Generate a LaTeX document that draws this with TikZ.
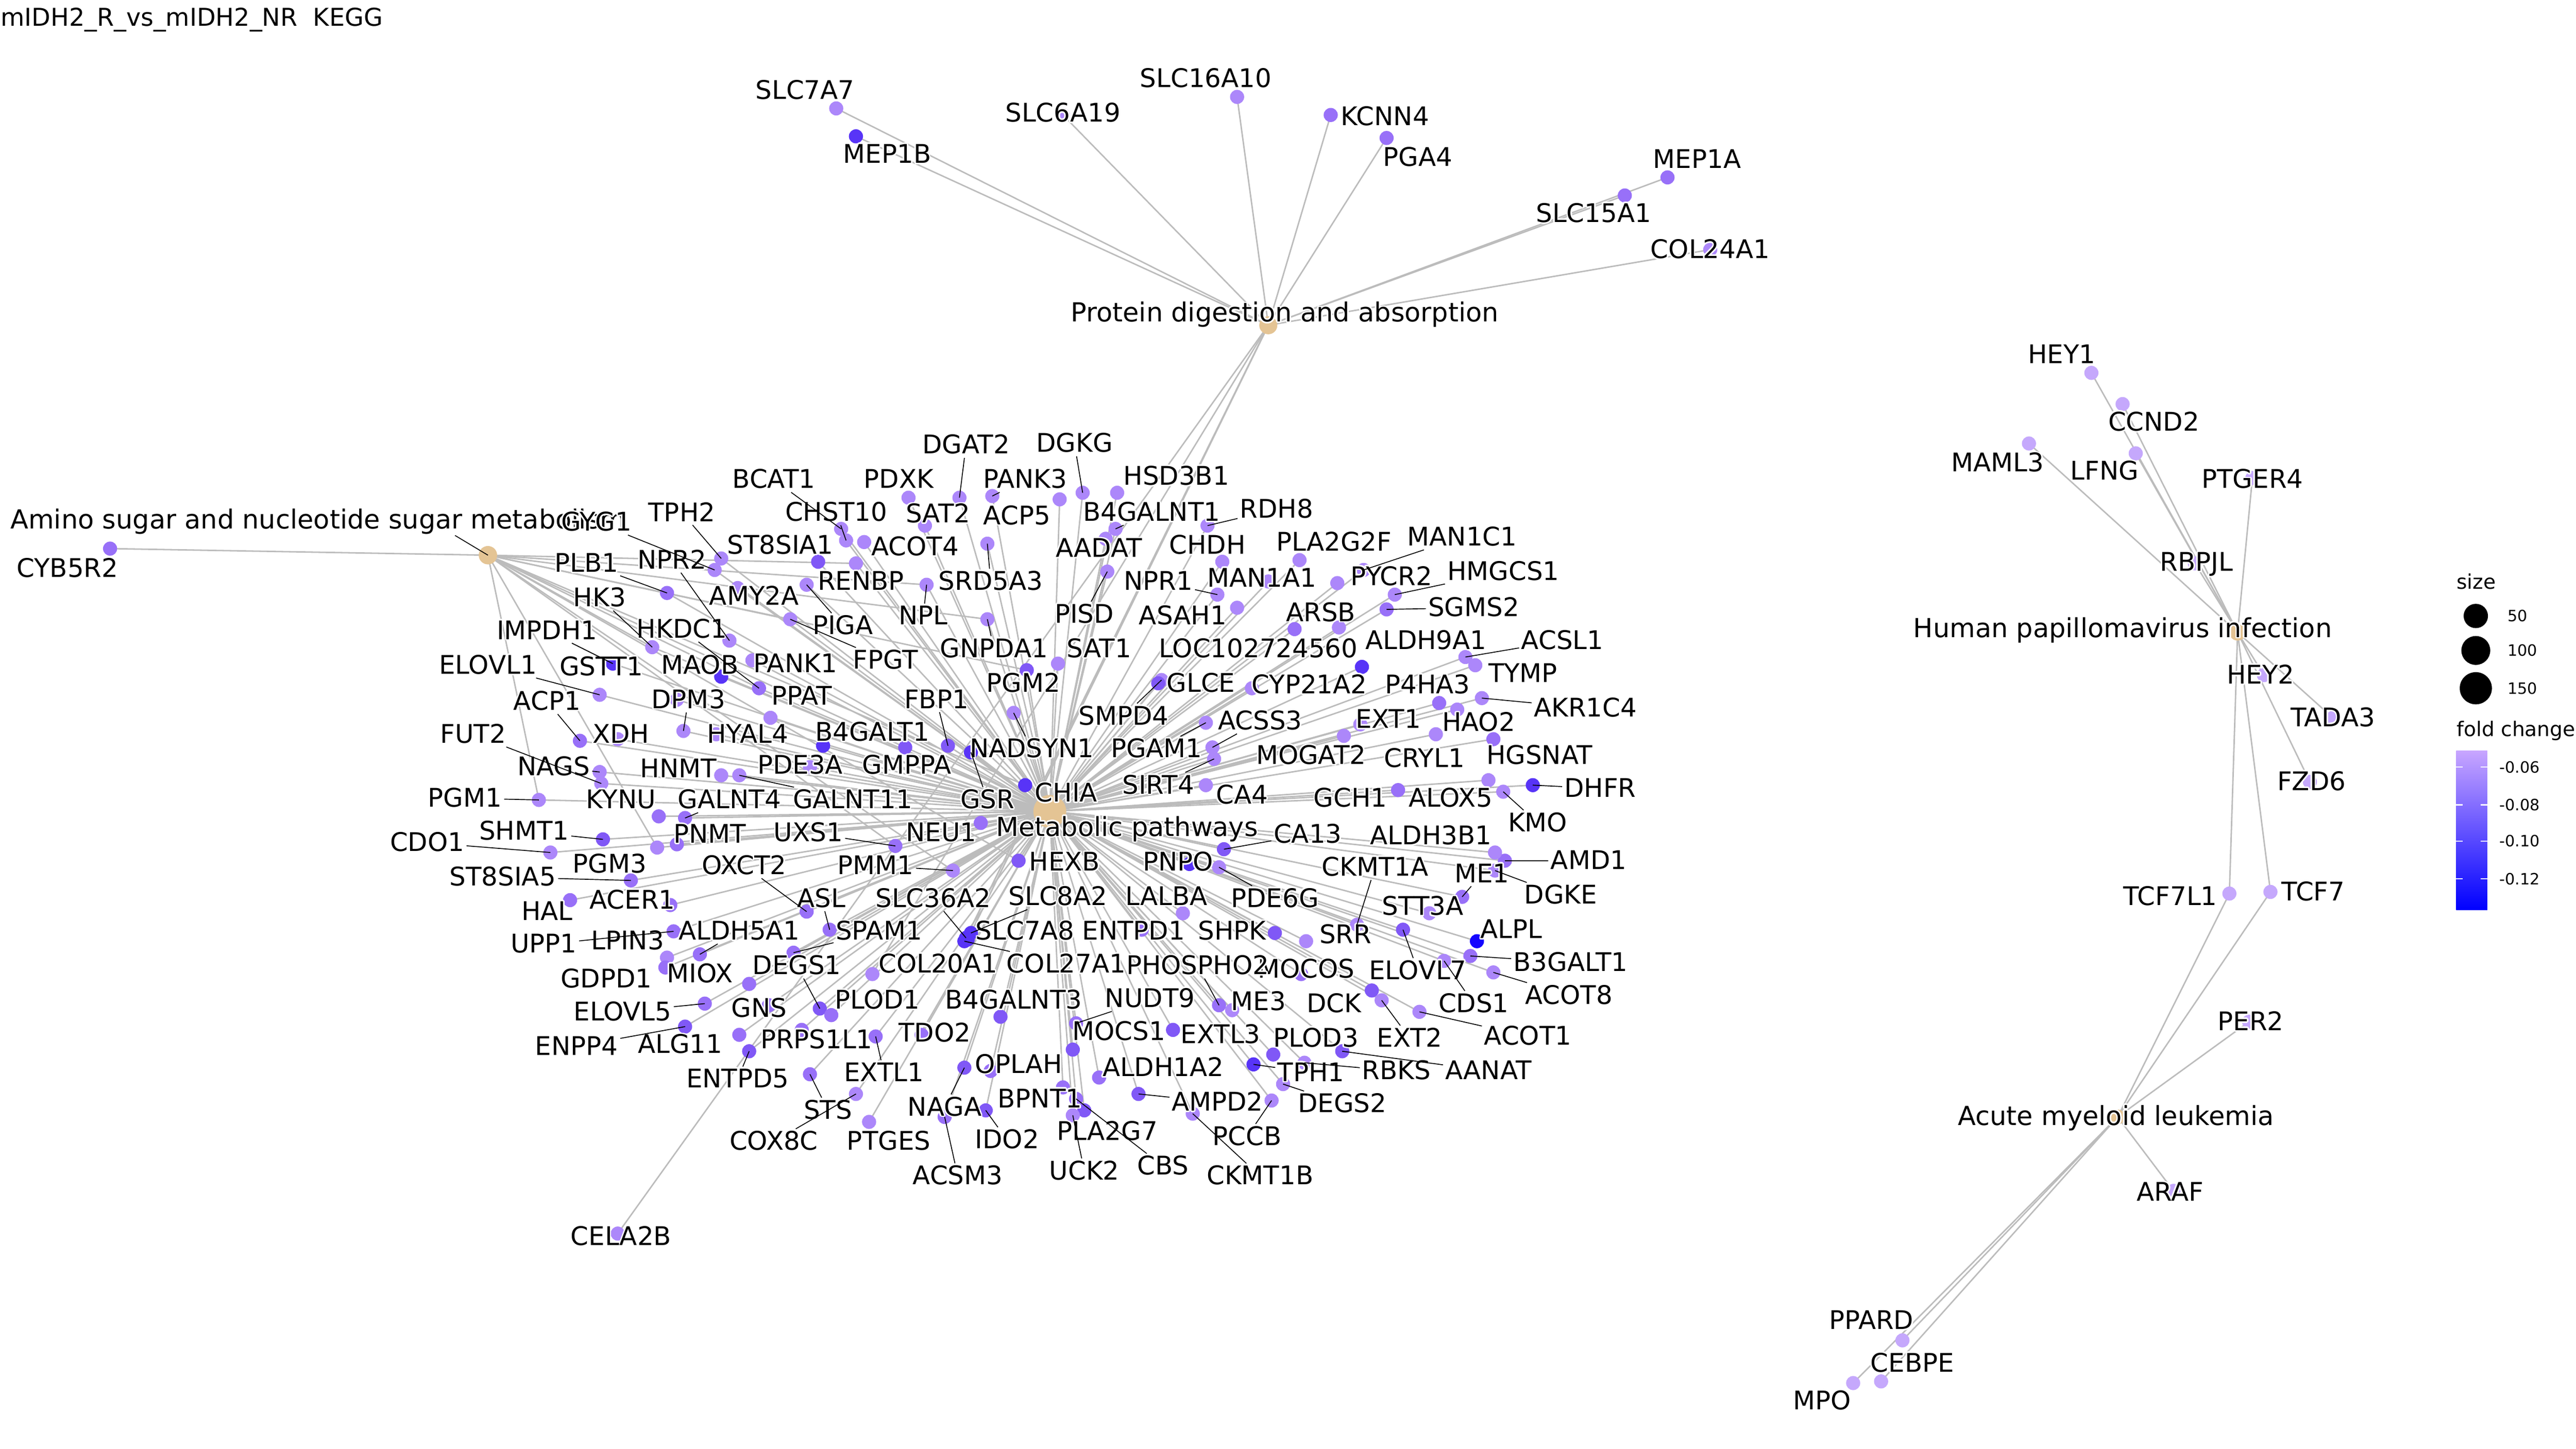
\documentclass[tikz,border=0pt]{standalone}
\usepackage{fontspec}
\setmainfont{DejaVu Sans}
\usepackage[copies]{contour}
\contourlength{0.5pt}

\definecolor{fcP}{RGB}{197,168,252}
\definecolor{fcL}{RGB}{172,135,250}
\definecolor{fcM}{RGB}{152,112,248}
\definecolor{fcD}{RGB}{128,88,246}
\definecolor{fcB}{RGB}{88,52,247}
\definecolor{fcX}{RGB}{20,5,255}
\definecolor{catcol}{RGB}{228,196,148}
\definecolor{edgegray}{RGB}{188,188,188}
\definecolor{barTop}{RGB}{200,166,255}
\definecolor{barMid}{RGB}{150,112,252}

\tikzset{
  edge/.style={edgegray, line width=0.5pt},
  leader/.style={black, line width=0.3pt},
  glab/.style={font=\fontsize{8.9}{10}\selectfont, inner sep=0.6pt},
  clab/.style={font=\fontsize{9.1}{10}\selectfont, inner sep=0.6pt},
  leg/.style={font=\fontsize{5.4}{6}\selectfont, inner sep=0pt, anchor=west},
  legtitle/.style={font=\fontsize{7}{8}\selectfont, inner sep=0pt, anchor=west}
}

% name / label x / label y / dot x / dot y / colour / leader / category
\def\genes{%
SLC7A7/490/55/509/66/L/0/pro,
MEP1B/540/94/521/83/B/0/pro,
SLC6A19/647/69/647/70/L/0/pro,
SLC16A10/734/48/753/59/L/0/pro,
KCNN4/843/71/810/70/M/0/pro,
PGA4/863/96/844/84/M/0/pro,
MEP1A/1033/97/1015/108/M/0/pro,
SLC15A1/970/130/989/119/M/0/pro,
COL24A1/1041/152/1041/152/L/0/pro,
CELA2B/378/753/376/751/L/0/pro,
SLC36A2/568/547/588/571/B/1/pro,
SLC8A2/644/546/591/568/B/1/pro,
SLC7A8/624/567/589/572/B/0/pro,
COL20A1/571/587/531/593/L/0/pro,
CYB5R2/41/346/67/334/M/0/ami,
BCAT1/471/292/512/322/L/1/met,
CHST10/509/312/515/329/L/1/met,
TPH2/415/312/439/340/L/1/met,
ST8SIA1/475/332/498/342/D/0/met,
PLB1/357/343/406/361/M/1/met,
NPR2/409/341/444/390/L/1/met,
AMY2A/459/363/449/358/L/0/met,
RENBP/524/354/521/343/L/0/met,
PIGA/513/381/491/356/L/1/met,
HK3/365/364/397/394/L/1/met,
IMPDH1/333/384/373/404/B/1/met,
HKDC1/415/383/462/419/M/1/met,
FPGT/539/402/481/377/L/1/met,
PANK1/484/404/458/402/L/0/met,
ELOVL1/297/405/365/423/L/1/met,
GSTT1/366/406/412/426/L/0/met,
MAOB/426/405/439/412/B/0/met,
PPAT/488/424/469/437/L/0/met,
ACP1/333/427/353/451/M/1/met,
DPM3/419/426/416/445/L/1/met,
XDH/378/447/376/450/L/0/met,
HYAL4/455/447/436/447/L/0/met,
B4GALT1/531/446/501/454/B/0/met,
FUT2/288/447/366/477/L/1/met,
NAGS/337/467/365/470/L/1/met,
HNMT/413/468/439/472/L/0/met,
PDE3A/487/466/493/467/L/0/met,
GALNT11/519/487/450/472/L/1/met,
GALNT4/444/487/417/498/M/1/met,
PGM1/283/486/328/487/L/1/met,
KYNU/378/487/401/497/M/0/met,
SHMT1/319/506/367/511/D/1/met,
CDO1/260/513/335/519/L/1/met,
PNMT/432/508/412/514/M/0/met,
PGM3/371/526/400/516/L/0/met,
UXS1/492/507/545/515/M/1/met,
ST8SIA5/306/534/384/536/M/1/met,
OXCT2/453/527/491/555/M/1/met,
HAL/333/555/347/548/M/0/met,
ACER1/385/548/408/551/M/0/met,
ASL/500/547/505/566/M/1/met,
UPP1/331/575/410/567/M/1/met,
LPIN3/382/573/406/583/L/0/met,
ALDH5A1/450/567/426/581/M/1/met,
SPAM1/535/567/483/580/M/1/met,
GDPD1/369/596/405/589/M/0/met,
MIOX/426/593/456/599/M/0/met,
DEGS1/485/588/499/614/D/1/met,
ELOVL5/379/616/429/611/M/1/met,
GNS/462/614/468/612/M/0/met,
ENPP4/351/637/417/625/D/1/met,
ALG11/414/636/450/630/M/0/met,
PRPS1L1/497/633/488/627/M/0/met,
PLOD1/534/609/506/618/M/0/met,
ENTPD5/449/657/456/640/D/1/met,
EXTL1/538/653/533/631/M/1/met,
STS/504/676/493/654/M/1/met,
COX8C/471/695/521/666/L/1/met,
PTGES/541/695/529/683/L/0/met,
TDO2/569/629/561/630/M/0/met,
NEU1/573/507/597/501/M/0/met,
PMM1/533/527/580/530/L/1/met,
GSR/601/487/591/458/B/1/met,
CHIA/649/483/624/478/B/0/met,
HEXB/648/525/620/524/D/0/met,
B4GALNT3/617/609/609/619/D/0/met,
NAGA/575/674/587/650/D/1/met,
OPLAH/620/648/603/652/M/0/met,
ACSM3/583/716/575/680/M/1/met,
IDO2/613/694/600/676/D/1/met,
BPNT1/633/669/647/662/M/0/met,
PLA2G7/674/689/660/676/D/0/met,
UCK2/660/713/653/679/L/1/met,
CBS/708/710/655/669/M/1/met,
MOCS1/681/628/653/639/D/0/met,
NUDT9/700/608/655/623/M/1/met,
ALDH1A2/708/650/669/656/M/0/met,
AMPD2/741/671/693/666/D/1/met,
CKMT1B/767/716/726/678/L/1/met,
PCCB/759/692/774/670/L/1/met,
EXTL3/743/630/714/627/D/0/met,
ENTPD1/690/567/695/566/M/0/met,
LALBA/710/546/720/556/L/0/met,
PNPO/717/525/724/526/B/0/met,
PDE6G/776/547/742/528/L/1/met,
CA13/796/508/745/517/D/1/met,
SHPK/750/567/776/568/D/0/met,
MOCOS/795/590/792/593/M/0/met,
PHOSPHO2/729/588/742/612/M/1/met,
COL27A1/649/587/587/573/B/1/pro,
ME3/766/610/750/615/L/0/met,
SRR/819/569/795/573/L/0/met,
CKMT1A/837/528/826/563/L/1/met,
PLOD3/801/632/775/642/D/0/met,
TPH1/798/653/763/648/B/1/met,
RBKS/850/652/794/647/L/1/met,
AANAT/906/652/817/640/D/1/met,
DEGS2/817/672/781/660/L/1/met,
DCK/812/611/835/603/D/0/met,
EXT2/858/632/841/609/L/1/met,
ELOVL7/863/591/854/566/D/1/met,
CDS1/897/611/879/585/L/1/met,
ACOT1/930/631/864/616/L/1/met,
STT3A/866/552/870/556/L/0/met,
ALPL/920/566/899/573/X/0/met,
B3GALT1/956/586/895/582/M/1/met,
ACOT8/955/606/909/592/L/1/met,
ME1/902/532/890/546/M/1/met,
DGKE/950/545/910/530/L/1/met,
AMD1/967/524/916/524/M/1/met,
ALDH3B1/871/509/910/519/L/0/met,
KMO/936/501/915/482/L/1/met,
DHFR/974/480/933/478/B/1/met,
ALOX5/883/486/906/475/L/0/met,
GCH1/822/486/851/481/M/0/met,
CA4/756/484/734/478/L/0/met,
SIRT4/705/478/739/462/L/1/met,
PGAM1/704/456/734/440/L/1/met,
ACSS3/767/439/738/455/L/1/met,
MOGAT2/798/460/818/448/L/0/met,
HGSNAT/937/460/909/450/M/0/met,
CRYL1/867/462/874/447/L/0/met,
EXT1/845/438/828/441/L/0/met,
HAO2/900/440/887/432/L/0/met,
AKR1C4/965/431/902/425/L/1/met,
P4HA3/869/417/876/428/M/0/met,
TYMP/927/410/898/405/L/0/met,
ACSL1/951/390/892/400/L/1/met,
ALDH9A1/868/390/829/406/B/0/met,
CYP21A2/797/417/762/419/L/0/met,
LOC102724560/766/395/815/382/L/0/met,
SMPD4/684/436/707/414/L/1/met,
GLCE/731/416/705/416/D/0/met,
SGMS2/897/370/844/371/M/1/met,
HMGCS1/915/348/849/362/L/1/met,
PYCR2/847/351/814/355/L/0/met,
MAN1C1/890/327/830/347/L/1/met,
PLA2G2F/812/330/791/341/L/0/met,
ARSB/804/373/788/383/M/0/met,
MAN1A1/768/352/772/354/L/0/met,
NPR1/705/354/741/362/L/1/met,
ASAH1/720/375/753/370/L/0/met,
CHDH/735/332/744/342/L/0/met,
RDH8/777/310/735/320/L/1/met,
PISD/660/374/674/348/L/1/met,
SAT1/669/395/644/404/L/0/met,
GNPDA1/605/395/601/377/L/1/met,
PGM2/623/416/625/408/D/0/met,
NADSYN1/628/456/617/434/L/1/met,
FBP1/570/426/577/454/D/1/met,
GMPPA/552/466/551/455/D/0/met,
NPL/562/375/564/356/L/1/met,
SRD5A3/603/354/601/331/L/1/met,
ACOT4/557/333/526/330/L/0/met,
SAT2/571/313/563/320/L/0/met,
ACP5/619/314/645/304/L/0/met,
B4GALNT1/701/312/679/322/L/1/met,
AADAT/669/334/673/328/L/0/met,
HSD3B1/716/290/680/300/L/0/met,
DGKG/654/270/659/300/L/1/met,
DGAT2/588/271/584/303/L/1/met,
PANK3/624/292/604/302/L/1/met,
PDXK/547/292/553/303/L/0/met,
GYG1/363/318/435/347/L/1/met,
HEY1/1255/216/1273/227/P/0/hpv,
CCND2/1311/257/1292/246/P/0/hpv,
MAML3/1216/282/1235/270/P/0/hpv,
LFNG/1281/287/1300/276/P/0/hpv,
PTGER4/1371/292/1371/291/P/0/hpv,
RBPJL/1337/344/1336/343/P/0/hpv,
HEY2/1376/411/1378/411/P/0/hpv,
TADA3/1420/437/1420/437/P/0/hpv,
FZD6/1407/476/1406/476/P/0/hpv,
TCF7L1/1321/546/1357/544/P/0/hpv,
TCF7/1408/543/1382/543/P/0/hpv,
PER2/1370/622/1369/622/P/0/aml,
ARAF/1321/726/1323/725/P/0/aml,
PPARD/1139/804/1158/816/P/0/aml,
CEBPE/1164/830/1145/841/P/0/aml,
MPO/1109/853/1128/842/P/0/aml}

\begin{document}
\begin{tikzpicture}[x=0.02cm, y=-0.02cm]
\useasboundingbox (0,0) rectangle (1568,882);

% category nodes
\coordinate (c-met) at (639,494);
\coordinate (c-ami) at (297,338);
\coordinate (c-pro) at (772,198);
\coordinate (c-hpv) at (1362,385);
\coordinate (c-aml) at (1289,680);

\foreach \gname/\lx/\ly/\dx/\dy/\col/\gk/\gcat in \genes {
  \coordinate (g-\gname) at (\dx,\dy);
}

% edges
\foreach \gname/\lx/\ly/\dx/\dy/\col/\gk/\gcat in \genes {
  \draw[edge] (c-\gcat) -- (g-\gname);
}
\foreach \gname in {HK3,HKDC1,GNPDA1,PGM1,PGM2,PGM3,GMPPA,UXS1,CHIA,HEXB,FPGT,PMM1,NPL,RENBP}
  \draw[edge] (c-ami) -- (g-\gname);
\foreach \gname in {TCF7L1,TCF7}
  \draw[edge] (c-aml) -- (g-\gname);

% dots
\foreach \gname/\lx/\ly/\dx/\dy/\col/\gk/\gcat in \genes {
  \fill[fill=fc\col] (g-\gname) circle[radius=0.086cm];
}
\fill[catcol] (c-met) circle[radius=0.2cm];
\fill[catcol] (c-ami) circle[radius=0.112cm];
\fill[catcol] (c-pro) circle[radius=0.11cm];
\fill[catcol] (c-hpv) circle[radius=0.1cm];
\fill[catcol] (c-aml) circle[radius=0.09cm];

% category labels
\node[clab, anchor=west] (l-ami) at (5,318) {\contour{white}{Amino sugar and nucleotide sugar metabolism}};
\node[clab] (l-pro) at (782,192) {\contour{white}{Protein digestion and absorption}};
\node[clab] (l-met) at (686,505) {\contour{white}{Metabolic pathways}};
\node[clab] (l-hpv) at (1292,384) {\contour{white}{Human papillomavirus infection}};
\node[clab] (l-aml) at (1288,681) {\contour{white}{Acute myeloid leukemia}};
\coordinate (ami-tip) at (277,326);
\draw[leader] (ami-tip) -- (c-ami);

% gene labels
\foreach \gname/\lx/\ly/\dx/\dy/\col/\gk/\gcat in \genes {
  \node[glab] (l-\gname) at (\lx,\ly) {\contour{white}{\gname}};
}
\foreach \gname/\lx/\ly/\dx/\dy/\col/\gk/\gcat in \genes {
  \ifnum\gk=1 \draw[leader] (l-\gname) -- (g-\gname); \fi
}

% legend
\node[legtitle] (leg-size) at (1495,354) {size};
\foreach \v/\y/\r in {50/375/0.148, 100/396/0.176, 150/419/0.196}{
  \fill (1507,\y) circle[radius=\r cm];
  \node[leg] (leg-\v) at (1526,\y) {\v};
}
\node[legtitle] (leg-fc) at (1495,445) {fold change};
\shade[top color=barTop, middle color=barMid, bottom color=blue] (1495,457) rectangle (1514,554);
\foreach \tk/\y in {-0.06/467, -0.08/490, -0.10/512, -0.12/535}{
  \draw[white, line width=0.4pt] (1495,\y) -- (1499,\y) (1510,\y) -- (1514,\y);
  \node[leg] at (1521,\y) {\tk};
}

\node[anchor=west, font=\fontsize{8.5}{10}\selectfont, inner sep=0pt] (title) at (0,12) {mIDH2\_R\_vs\_mIDH2\_NR\ \ KEGG};
\end{tikzpicture}
\end{document}
